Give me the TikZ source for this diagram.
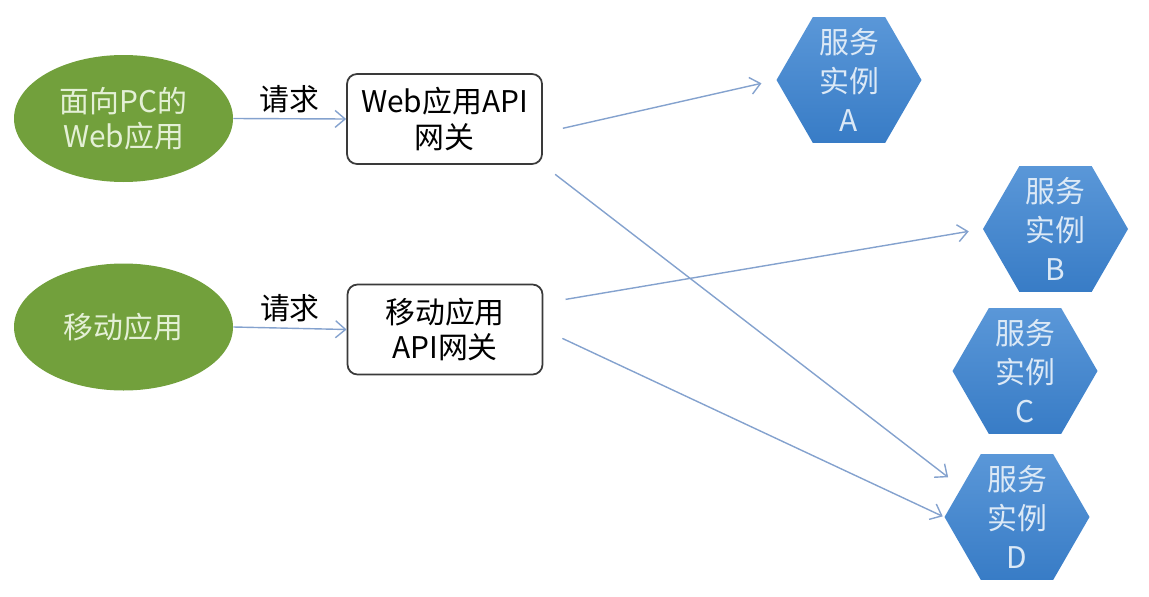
\documentclass[tikz,border=0pt]{standalone}
\usepackage{fontspec}
\setmainfont{Noto Sans CJK SC}
\usepackage{xcolor}
\usepackage{tikz}
\usetikzlibrary{arrows.meta,shapes.geometric}
\definecolor{appgreen}{HTML}{72A03C}
\definecolor{apptext}{HTML}{E4F0D6}
\definecolor{gwline}{HTML}{3A3A3A}
\definecolor{hextop}{HTML}{5A97D8}
\definecolor{hexbot}{HTML}{387CC6}
\definecolor{hextext}{HTML}{DCE9F6}
\definecolor{linkblue}{HTML}{84A2CE}

\begin{document}
\begin{tikzpicture}[
      every node/.append style={font=\fontsize{17}{20}\selectfont},
      client/.style={ellipse,fill=appgreen,text=apptext,minimum width=4.38cm,minimum height=2.54cm,align=center},
      gateway/.style={draw=gwline,line width=1pt,rounded corners=2mm,fill=white,minimum width=3.9cm,minimum height=1.8cm,align=center},
      service/.style={regular polygon,regular polygon sides=6,minimum size=2.9cm,inner sep=0pt,top color=hextop,bottom color=hexbot,draw=none},
      svclabel/.style={text=hextext,align=center,font=\fontsize{17}{22}\selectfont},
      link/.style={draw=linkblue,line width=0.8pt,-{Straight Barb[length=2mm,width=3.4mm]}}]
    \useasboundingbox (0,0) rectangle (22.98,-11.92);
    \node (web) [client] at (2.47,-2.37) {面向PC的\\Web应用};
    \node (mobile) [client] at (2.47,-6.54) {移动应用};
    \node (webgw) [gateway] at (8.89,-2.38) {Web应用API\\网关};
    \node (mobilegw) [gateway] at (8.9,-6.59) {移动应用\\API网关};
    \node (A) [service,label={[svclabel]center:服务\\实例\\A}] at (16.98,-1.6) {};
    \node (B) [service,label={[svclabel]center:服务\\实例\\B}] at (21.11,-4.58) {};
    \node (C) [service,label={[svclabel]center:服务\\实例\\C}] at (20.5,-7.42) {};
    \node (D) [service,label={[svclabel]center:服务\\实例\\D}] at (20.34,-10.34) {};
    \draw [link] (web.east) -- node [above,inner sep=3pt] {请求} (webgw.west);
    \draw [link] (mobile.east) -- node [above,inner sep=3pt] {请求} (mobilegw.west);
    \draw [link,shorten <=0.41cm,shorten >=0.3cm] (webgw.-8) -- (A.west);
    \draw [link,shorten <=0.31cm,shorten >=0.33cm] (webgw.south east) -- (D.152);
    \draw [link,shorten <=0.45cm,shorten >=0.28cm] (mobilegw.15) -- (B.west);
    \draw [link,shorten <=0.42cm,shorten >=0.03cm] (mobilegw.east) -- (D.west);
\end{tikzpicture}
\end{document}
